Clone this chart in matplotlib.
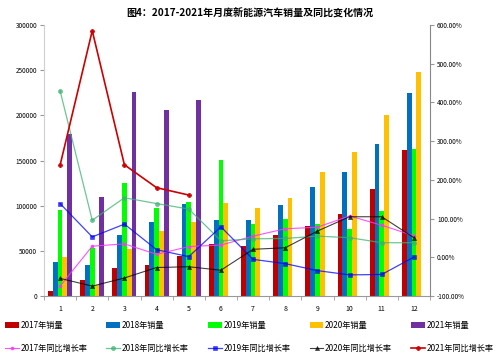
import matplotlib
matplotlib.use('Agg')
import matplotlib.pyplot as plt
import numpy as np
from matplotlib.ticker import FuncFormatter, MultipleLocator

plt.rcParams['font.family'] = ['Noto Sans CJK SC', 'DejaVu Sans']

months = [1, 2, 3, 4, 5, 6, 7, 8, 9, 10, 11, 12]
years = ['2017', '2018', '2019', '2020', '2021']

# monthly sales (vehicles)
sales_2017 = [5900, 17600, 31200, 34200, 44900, 58000, 55500, 67500, 77500, 91000, 118500, 162000]
sales_2018 = [38200, 34200, 67500, 81500, 101500, 84000, 84000, 100500, 120500, 137500, 168500, 225000]
sales_2019 = [95800, 52800, 125500, 97000, 103800, 151000, 79500, 85000, 79500, 74800, 94500, 163000]
sales_2020 = [43800, 12500, 52500, 72000, 81700, 103500, 97500, 108500, 137500, 160000, 200500, 248000]
sales_2021 = [179000, 109500, 226000, 206000, 217000]

# year-on-year growth (%)
yoy_2017 = [-74, 29, 35, 8, 28, 32, 55, 74, 78, 107, 83, 56]
yoy_2018 = [430, 96, 154, 139, 125, 43, 48, 49, 55, 51, 38, 38]
yoy_2019 = [139, 53, 86, 20, 2, 79, -5, -16, -34, -45, -44, 1]
yoy_2020 = [-54, -74, -53, -26, -24, -33, 21, 25, 68, 105, 105, 51]
yoy_2021 = [238, 585, 239, 180, 161]

bar_colors = ['#C00000', '#0070C0', '#00FF00', '#FFC000', '#7030A0']

fig = plt.figure(figsize=(5.0, 3.56), dpi=100)
ax = fig.add_axes([0.088, 0.168, 0.772, 0.762])
ax2 = ax.twinx()

w = 0.15
all_sales = [sales_2017, sales_2018, sales_2019, sales_2020, sales_2021]
bar_handles = []
for i, (yr, vals) in enumerate(zip(years, all_sales)):
    x = np.array(months[:len(vals)]) + (i - 2) * w
    b = ax.bar(x, vals, width=w, color=bar_colors[i], label=yr + '年销量')
    bar_handles.append(b)

# growth lines on right axis
line_styles = [
    dict(color='#FF33FF', marker='o', ms=2.2, lw=0.8, alpha=0.85),
    dict(color='#3CB371', marker='o', ms=3.0, lw=0.9, alpha=0.75),
    dict(color='#0000FF', marker='s', ms=3.2, lw=0.9, alpha=0.75),
    dict(color='#000000', marker='^', ms=3.0, lw=0.8, alpha=0.75),
    dict(color='#CC0000', marker='P', ms=3.2, lw=1.2, alpha=1.0),
]
all_yoy = [yoy_2017, yoy_2018, yoy_2019, yoy_2020, yoy_2021]
line_handles = []
for yr, vals, st in zip(years, all_yoy, line_styles):
    l, = ax2.plot(months[:len(vals)], vals, label=yr + '年同比增长率',
                  markeredgewidth=0.4, **st)
    line_handles.append(l)

ax.set_xlim(0.5, 12.5)
ax.set_ylim(0, 300000)
ax2.set_ylim(-100, 600)
ax.yaxis.set_major_locator(MultipleLocator(50000))
ax2.yaxis.set_major_locator(MultipleLocator(100))
ax2.yaxis.set_major_formatter(FuncFormatter(lambda v, p: '%.2f%%' % v))

ax.set_xticks(months)
ax.set_xticks(np.arange(0.5, 13, 1), minor=True)
ax.tick_params(axis='x', which='major', length=0, labelsize=5, pad=6)
ax.tick_params(axis='x', which='minor', length=3, color='#999999')
ax.tick_params(axis='y', length=3, labelsize=4.6, pad=2, color='#999999')
ax2.tick_params(axis='y', length=3, labelsize=4.6, pad=2, color='#999999')

for a in (ax, ax2):
    a.spines['top'].set_visible(False)
ax.spines['left'].set_color('#d0d0d0')
ax2.spines['left'].set_visible(False)
ax.spines['bottom'].set_color('#999999')
ax2.spines['bottom'].set_visible(False)
ax2.spines['right'].set_color('#888888')
ax.spines['right'].set_visible(False)

fig.text(0.5, 0.965, '图4：2017-2021年月度新能源汽车销量及同比变化情况',
         ha='center', va='center', fontsize=7.2, fontweight='bold')

# legend: bars on first row, lines on second row
handles = []
for b, l in zip(bar_handles, line_handles):
    handles += [b, l]
fig.legend(handles=handles, labels=[h.get_label() for h in handles],
           ncol=5, loc='lower left', bbox_to_anchor=(0.006, 0.003, 0.985, 0.12),
           mode='expand', frameon=False, fontsize=5.9, handlelength=1.7,
           handletextpad=0.2, labelspacing=1.8, borderaxespad=0.0,
           borderpad=0.2)

fig.savefig('out.png', dpi=100)
